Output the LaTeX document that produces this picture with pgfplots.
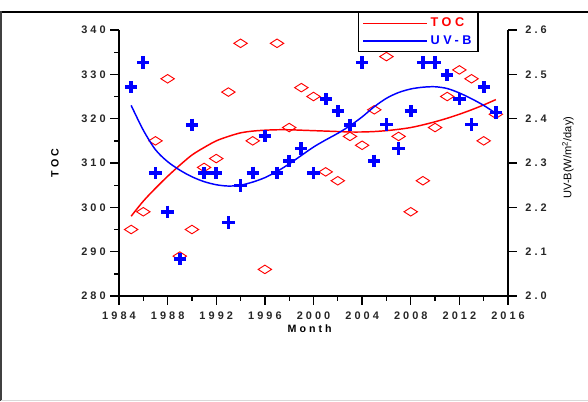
\documentclass[border=0pt]{standalone}
\usepackage{pgfplots}
\pgfplotsset{compat=1.18}
\usepackage{pgfplotstable}
\usepackage{fontspec}
\setmainfont{Liberation Sans}
\newfontfamily\spfont[LetterSpace=28]{Liberation Sans}

\pgfplotstableread{
year toc
1985 295
1986 299
1987 315
1988 329
1989 289
1990 295
1991 309
1992 311
1993 326
1994 337
1995 315
1996 286
1997 337
1998 318
1999 327
2000 325
2001 308
2002 306
2003 316
2004 314
2005 322
2006 334
2007 316
2008 299
2009 306
2010 318
2011 325
2012 331
2013 329
2014 315
2015 321
}\tocdata

\pgfplotstableread{
year uvb
1985 2.471
1986 2.527
1987 2.277
1988 2.190
1989 2.083
1990 2.386
1991 2.277
1992 2.277
1993 2.166
1994 2.249
1995 2.278
1996 2.361
1997 2.278
1998 2.305
1999 2.333
2000 2.277
2001 2.444
2002 2.417
2003 2.386
2004 2.527
2005 2.305
2006 2.387
2007 2.333
2008 2.417
2009 2.527
2010 2.527
2011 2.499
2012 2.444
2013 2.387
2014 2.471
2015 2.414
}\uvbdata

\pgfplotstableread{
year toc
1985 298.0
1986 301.4
1987 304.3
1988 307.0
1989 309.5
1990 311.8
1991 313.5
1992 315.0
1993 316.0
1994 316.8
1995 317.2
1996 317.4
1997 317.5
1998 317.5
1999 317.4
2000 317.3
2001 317.2
2002 317.1
2003 317.0
2004 317.0
2005 317.1
2006 317.3
2007 317.6
2008 318.0
2009 318.6
2010 319.3
2011 320.1
2012 321.0
2013 322.0
2014 323.1
2015 324.3
}\tocfit

\pgfplotstableread{
year uvb
1985 2.430
1986 2.374
1987 2.330
1988 2.303
1989 2.284
1990 2.269
1991 2.258
1992 2.251
1993 2.248
1994 2.250
1995 2.257
1996 2.267
1997 2.281
1998 2.298
1999 2.317
2000 2.336
2001 2.352
2002 2.367
2003 2.384
2004 2.404
2005 2.427
2006 2.446
2007 2.459
2008 2.467
2009 2.471
2010 2.472
2011 2.468
2012 2.458
2013 2.445
2014 2.430
2015 2.412
}\uvbfit

\pgfplotsset{
  common/.style={
    at={(0,0)}, anchor=south west,
    scale only axis, width=291.75pt, height=199.5pt,
    xmin=1984, xmax=2016,
    tick align=outside,
    major tick length=6.5pt, minor tick length=3.5pt,
    every tick/.style={black, line width=1pt},
    axis line style={black, line width=1.1pt, -},
    ticklabel style={font=\spfont\bfseries\fontsize{8.2}{9}\selectfont, text=black!85},
    label style={font=\spfont\bfseries\fontsize{8}{9}\selectfont},
    /pgf/number format/assume math mode=true,
  }
}

\begin{document}
\begin{tikzpicture}
\path[use as bounding box] (-89.25pt,-78.75pt) rectangle (351.75pt,222pt);
\draw[black, line width=0.8pt] (-88.5pt,213pt) -- (351.75pt,213pt);
\draw[black!75, line width=1.6pt] (-88.5pt,213.4pt) -- (-88.5pt,-78.75pt);
\draw[black!15, line width=0.8pt] (-88.5pt,-78.3pt) -- (351.75pt,-78.3pt);

\begin{axis}[common,
  ymin=280, ymax=340,
  axis x line*=bottom, axis y line*=left,
  xtick={1984,1988,...,2016}, minor xtick={1986,1990,...,2014},
  ytick={280,290,...,340}, minor ytick={285,295,...,335},
  x tick label style={/pgf/number format/set thousands separator={}, yshift=-1.5pt},
  xlabel={Month}, ylabel={TOC},
  xlabel style={at={(axis description cs:0.49,0)}, anchor=center, yshift=-24.5pt},
  ylabel style={at={(axis description cs:0,0.5)}, anchor=center, yshift=48pt},
]
\addplot[only marks, mark=diamond, red, mark size=3.2pt,
  mark options={xscale=2.1, fill=white, line width=0.7pt}] table[x=year,y=toc]{\tocdata};
\addplot[red, line width=1.1pt, smooth] table[x=year,y=toc]{\tocfit};
\end{axis}

\begin{axis}[common,
  ymin=2.0, ymax=2.6,
  axis x line=none, axis y line*=right,
  ytick={2.0,2.1,2.2,2.3,2.4,2.5,2.6},
  yticklabel style={/pgf/number format/fixed, /pgf/number format/fixed zerofill, /pgf/number format/precision=1, xshift=3pt},
  ylabel={UV-B(W/m\textsuperscript{2}/day)},
  ylabel style={at={(axis description cs:1,0.52)}, anchor=center, yshift=-45pt, font=\fontsize{8.3}{9}\selectfont},
  legend style={at={(rel axis cs:0.614,1.068)}, anchor=north west, draw=black, line width=1.1pt,
    font=\spfont\bfseries\fontsize{9.5}{11}\selectfont, inner xsep=3pt, inner ysep=2pt, row sep=1pt,
    cells={anchor=west}},
  legend image code/.code={\draw[#1, line width=1pt] (0pt,0pt) -- (48pt,0pt);},
]
\addlegendimage{red, line width=1pt}
\addlegendentry{\textcolor{red}{TOC}}
\addplot[only marks, mark=+, blue, mark size=4.6pt, line width=2.8pt, forget plot] table[x=year,y=uvb]{\uvbdata};
\addplot[blue, line width=1.1pt, smooth] table[x=year,y=uvb]{\uvbfit};
\addlegendentry{\textcolor{blue}{UV-B}}
\end{axis}
\end{tikzpicture}
\end{document}
